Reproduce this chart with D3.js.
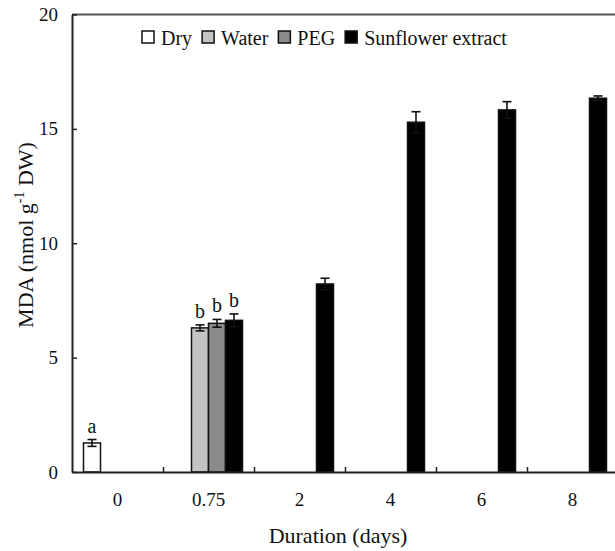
<!DOCTYPE html>
<html>
<head>
<meta charset="utf-8">
<script src="https://cdn.jsdelivr.net/npm/d3@7"></script>
<style>
  body { margin: 0; background: #fff; }
  svg { display: block; font-family: "Liberation Serif", "Times New Roman", serif; }
</style>
</head>
<body>
<svg id="chart"></svg>
<script>
// MDA content over time
const categories = ['0', '0.75', '2', '4', '6', '8'];
const seriesNames = ['Dry', 'Water', 'PEG', 'Sunflower extract'];
const seriesColors = ['#ffffff', '#c4c4c4', '#8a8a8a', '#000000'];

const dryValues       = [1.27, null, null, null, null, null];
const waterValues     = [null, 6.30, null, null, null, null];
const pegValues       = [null, 6.50, null, null, null, null];
const sunflowerValues = [null, 6.63, 8.22, 15.29, 15.83, 16.34];

const dryErrors       = [0.15, null, null, null, null, null];
const waterErrors     = [null, 0.13, null, null, null, null];
const pegErrors       = [null, 0.17, null, null, null, null];
const sunflowerErrors = [null, 0.28, 0.25, 0.46, 0.36, 0.10];

const dryLetters       = ['a', null, null, null, null, null];
const waterLetters     = [null, 'b', null, null, null, null];
const pegLetters       = [null, 'b', null, null, null, null];
const sunflowerLetters = [null, 'b', null, null, null, null];

const yTicks = [0, 5, 10, 15, 20];

const width = 615, height = 551;
const plotLeft = 72, plotRight = 618, plotTop = 14.5, plotBottom = 472;

const values = [dryValues, waterValues, pegValues, sunflowerValues];
const errors = [dryErrors, waterErrors, pegErrors, sunflowerErrors];
const letters = [dryLetters, waterLetters, pegLetters, sunflowerLetters];

const bars = [];
seriesNames.forEach((s, si) => {
    categories.forEach((c, ci) => {
        if (values[si][ci] == null) return;
        bars.push({ series: s, si: si, cat: c, value: values[si][ci],
                    err: errors[si][ci], letter: letters[si][ci] });
    });
});

const svg = d3.select('#chart')
    .attr('width', width)
    .attr('height', height);

const xScale = d3.scaleBand()
    .domain(categories)
    .range([plotLeft, plotRight])
    .padding(0);

const xInner = d3.scaleBand()
    .domain(seriesNames)
    .range([11.5, xScale.bandwidth() - 11.5])
    .padding(0);

const yScale = d3.scaleLinear()
    .domain([0, 20])
    .range([plotBottom, plotTop]);

// top frame line
svg.append('line')
    .attr('x1', plotLeft).attr('x2', width)
    .attr('y1', yScale(20)).attr('y2', yScale(20))
    .attr('stroke', '#555')
    .attr('stroke-width', 2);

// bars
svg.selectAll('.bar')
    .data(bars)
    .enter()
    .append('rect')
    .attr('class', 'bar')
    .attr('x', d => xScale(d.cat) + xInner(d.series))
    .attr('y', d => yScale(d.value))
    .attr('width', xInner.bandwidth())
    .attr('height', d => plotBottom - yScale(d.value))
    .attr('fill', d => seriesColors[d.si])
    .attr('stroke', '#111')
    .attr('stroke-width', 1.5);

// error bars
const errG = svg.selectAll('.err')
    .data(bars)
    .enter()
    .append('g')
    .attr('class', 'err')
    .attr('stroke', '#111')
    .attr('stroke-width', 1.6);

const cx = d => xScale(d.cat) + xInner(d.series) + xInner.bandwidth() / 2;

errG.append('line')
    .attr('x1', cx).attr('x2', cx)
    .attr('y1', d => yScale(d.value - d.err))
    .attr('y2', d => yScale(d.value + d.err));
errG.append('line')
    .attr('x1', d => cx(d) - 4.5).attr('x2', d => cx(d) + 4.5)
    .attr('y1', d => yScale(d.value + d.err))
    .attr('y2', d => yScale(d.value + d.err));
errG.append('line')
    .attr('x1', d => cx(d) - 4.5).attr('x2', d => cx(d) + 4.5)
    .attr('y1', d => yScale(d.value - d.err))
    .attr('y2', d => yScale(d.value - d.err));

// significance letters
svg.selectAll('.letter')
    .data(bars.filter(d => d.letter))
    .enter()
    .append('text')
    .attr('class', 'letter')
    .attr('x', cx)
    .attr('y', d => yScale(d.value + d.err) - 7)
    .attr('text-anchor', 'middle')
    .attr('font-size', 20)
    .attr('fill', '#111')
    .text(d => d.letter);

// y axis
const yAxis = d3.axisLeft(yScale)
    .tickValues(yTicks)
    .tickSizeInner(-5)
    .tickSizeOuter(0)
    .tickPadding(14);

const yG = svg.append('g')
    .attr('transform', `translate(${plotLeft},0)`)
    .call(yAxis);
yG.select('.domain').attr('stroke', '#222').attr('stroke-width', 2);
yG.selectAll('.tick line').attr('stroke', '#222').attr('stroke-width', 1.5);
yG.selectAll('.tick text')
    .attr('font-size', 19)
    .attr('font-family', '"Liberation Serif", serif')
    .attr('fill', '#111');

// x axis: labels at group centres
const xAxis = d3.axisBottom(xScale)
    .tickSize(0)
    .tickPadding(21);

const xG = svg.append('g')
    .attr('transform', `translate(0,${plotBottom})`)
    .call(xAxis);
xG.select('.domain').attr('stroke', '#222').attr('stroke-width', 2);
xG.selectAll('.tick text')
    .attr('font-size', 19)
    .attr('font-family', '"Liberation Serif", serif')
    .attr('fill', '#111');

// x axis: small ticks between groups
const xEdge = d3.scaleLinear()
    .domain([0, categories.length])
    .range([plotLeft, plotRight]);

const xTicks = svg.append('g')
    .attr('transform', `translate(0,${plotBottom})`)
    .call(d3.axisBottom(xEdge)
        .tickValues(d3.range(1, categories.length))
        .tickSizeInner(-5)
        .tickSizeOuter(0)
        .tickFormat(''));
xTicks.select('.domain').remove();
xTicks.selectAll('.tick line').attr('stroke', '#222').attr('stroke-width', 1.5);

// axis titles
const yTitle = svg.append('text')
    .attr('transform', 'translate(33,235) rotate(-90)')
    .attr('text-anchor', 'middle')
    .attr('font-size', 22)
    .attr('fill', '#111');
yTitle.append('tspan').text('MDA (nmol g');
yTitle.append('tspan').attr('font-size', 14).attr('dy', -9).text('-1');
yTitle.append('tspan').attr('dy', 9).text(' DW)');

svg.append('text')
    .attr('x', 338)
    .attr('y', 543)
    .attr('text-anchor', 'middle')
    .attr('font-size', 22)
    .attr('fill', '#111')
    .text('Duration (days)');

// legend
const legend = svg.append('g').attr('transform', 'translate(142,0)');
let lx = 0;
seriesNames.forEach((s, i) => {
    const item = legend.append('g').attr('transform', `translate(${lx},0)`);
    item.append('rect')
        .attr('x', 0).attr('y', 31)
        .attr('width', 12).attr('height', 12)
        .attr('fill', seriesColors[i])
        .attr('stroke', '#111')
        .attr('stroke-width', 1.5);
    const t = item.append('text')
        .attr('x', 19).attr('y', 45)
        .attr('font-size', 20)
        .attr('fill', '#111')
        .text(s);
    lx += 19 + t.node().getComputedTextLength() + 10;
});
</script>
</body>
</html>
